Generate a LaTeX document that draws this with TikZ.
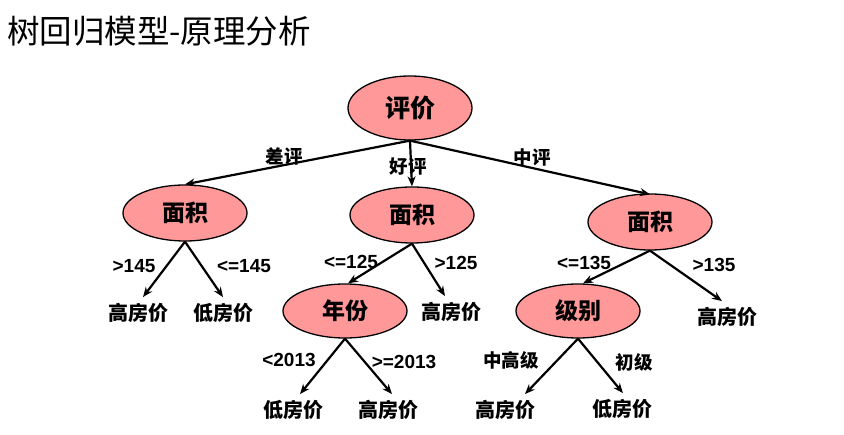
\documentclass[tikz,border=0pt]{standalone}
\usepackage{fontspec}
\setmainfont{Liberation Sans}
\newfontfamily\cjk{Noto Sans CJK SC}
\usetikzlibrary{arrows.meta,shapes.geometric}
\definecolor{nodepink}{HTML}{FF9999}
\tikzset{
  oval/.style={ellipse,draw=black,line width=1.3pt,fill=nodepink,minimum width=124pt,minimum height=56pt,inner sep=0pt,font=\cjk\bfseries\fontsize{23}{23}\selectfont},
  leaf/.style={inner sep=6pt,font=\cjk\bfseries\fontsize{20}{20}\selectfont},
  clab/.style={inner sep=0pt,font=\cjk\bfseries\fontsize{18.5}{18.5}\selectfont},
  nlab/.style={inner sep=0pt,font=\bfseries\fontsize{19}{19}\selectfont},
  arr/.style={line width=2.2pt,-{Stealth[length=10pt,width=8pt]}},
}
\begin{document}
\begin{tikzpicture}[x=1pt,y=-1pt]
\useasboundingbox[fill=white] (0,0) rectangle (844,435);
\node[anchor=west,inner sep=0pt,font=\cjk\fontsize{32.5}{32.5}\selectfont] (title) at (7,31) {树回归模型-原理分析};

\node[oval,minimum height=64pt,font=\cjk\bfseries\fontsize{25}{25}\selectfont] (root) at (410,108) {评价};
\node[oval] (a1) at (185,213) {面积};
\node[oval] (a2) at (412,215) {面积};
\node[oval] (a3) at (650,222) {面积};
\node[oval,minimum height=54pt] (y) at (345,311) {年份};
\node[oval,minimum height=54pt] (g) at (578,311) {级别};

\node[leaf] (l1) at (138,313) {高房价};
\node[leaf] (l2) at (223,313) {低房价};
\node[leaf] (l3) at (451,312) {高房价};
\node[leaf] (l4) at (727,317) {高房价};
\node[leaf] (l5) at (293,410) {低房价};
\node[leaf] (l6) at (388,410) {高房价};
\node[leaf] (l7) at (505,410) {高房价};
\node[leaf] (l8) at (622,409) {低房价};

\draw[arr] (root.south) -- (a1.north);
\draw[arr] (root.south) -- (a2.north);
\draw[arr] (root.south) -- ([yshift=-1pt]a3.north);
\draw[arr] (a1.south) -- ([xshift=5pt]l1.north);
\draw[arr] (a1.south) -- (l2.north);
\draw[arr] (a2.south) -- ([xshift=3pt]y.north);
\draw[arr] (a2.south) -- ([xshift=-6pt]l3.north);
\draw[arr] (a3.south) -- ([xshift=5pt]g.north);
\draw[arr] (a3.south) -- ([xshift=-5pt]l4.north);
\draw[arr] (y.south) -- ([xshift=7pt]l5.north);
\draw[arr] (y.south) -- ([xshift=4pt]l6.north);
\draw[arr] (g.south) -- ([xshift=20pt]l7.north);
\draw[arr] (g.south) -- ([xshift=1pt]l8.north);

\node[clab] (e1) at (284,156) {差评};
\node[clab] (e2) at (408,167) {好评};
\node[clab] (e3) at (532,157) {中评};
\node[nlab] (e4) at (134,266) {>145};
\node[nlab] (e5) at (244,266) {<=145};
\node[nlab] (e6) at (351,262) {<=125};
\node[nlab] (e7) at (456,263) {>125};
\node[nlab] (e8) at (584,263) {<=135};
\node[nlab] (e9) at (714,265) {>135};
\node[nlab] (e10) at (289,360) {<2013};
\node[nlab] (e11) at (404,362) {>=2013};
\node[clab] (e12) at (511,360) {中高级};
\node[clab] (e13) at (634,362) {初级};
\end{tikzpicture}
\end{document}
